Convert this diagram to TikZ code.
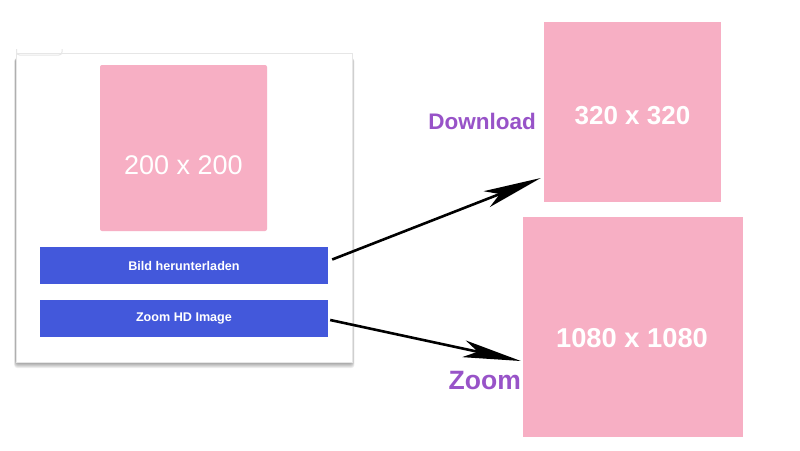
\documentclass[tikz,border=0pt]{standalone}
\usepackage{fontspec}
\setmainfont{Liberation Sans}
\usetikzlibrary{arrows.meta,calc}
\definecolor{pinkbox}{HTML}{F7AFC4}
\definecolor{btnblue}{HTML}{4358DB}
\definecolor{lblpurple}{HTML}{9853C8}
\definecolor{cardline}{HTML}{E6E6E6}
\tikzset{
  imgbox/.style={fill=pinkbox, draw=none, inner sep=0pt, text=white, font=\bfseries\fontsize{26}{30}\selectfont},
  btnbox/.style={fill=btnblue, draw=none, inner sep=0pt, minimum width=288pt, minimum height=37pt, text=white, font=\bfseries\fontsize{12.6}{14}\selectfont},
  lbl/.style={text=lblpurple, inner sep=0pt, font=\bfseries},
  bigarrow/.style={line width=2.6pt, -{Stealth[length=58pt, width=17pt, inset=14pt]}},
  shadowlayer/.style={fill=black, opacity=0.07, rounded corners=3pt},
}
\begin{document}
\begin{tikzpicture}[x=1pt,y=-1pt]
\useasboundingbox[fill=white] (0,0) rectangle (800,450);
% card shadow
\foreach \i in {1,...,6} {
  \fill[shadowlayer] (16-0.3*\i,58) rectangle (352+0.4*\i,362+1.0*\i);
}
% card
\node[draw=cardline, fill=white, inner sep=0pt, minimum width=336pt, minimum height=309pt]
  (card) at (184,207.5) {};
\draw[cardline, line width=1pt, rounded corners=3pt] (16.5,49) -- (16.5,55) -- (62,55) -- (62,49);
% 200 image
\node[imgbox, rounded corners=2pt, minimum width=167pt, minimum height=166pt] (img200) at (183.5,148) {};
\node[text=white, inner sep=0pt, font=\fontsize{27}{30}\selectfont] (t200) at (183.5,165) {200 x 200};
% buttons
\node[btnbox] (btn1) at (184,265.5) {Bild herunterladen};
\node[btnbox] (btn2) at (184,318.5) {Zoom HD Image};
% target images
\node[imgbox, minimum width=177pt, minimum height=180pt] (img320) at (632.5,112) {};
\node[text=white, font=\bfseries\fontsize{26}{30}\selectfont, inner sep=0pt] (t320) at (632.5,116) {320 x 320};
\node[imgbox, minimum width=220pt, minimum height=220pt] (img1080) at (633,327) {};
\node[text=white, font=\bfseries\fontsize{27.3}{30}\selectfont, inner sep=0pt] (t1080) at (632,338.5) {1080 x 1080};
% labels
\node[lbl, font=\bfseries\fontsize{22.5}{26}\selectfont, anchor=east] (ldown) at (536,121) {Download};
\node[lbl, font=\bfseries\fontsize{26.5}{30}\selectfont, anchor=east] (lzoom) at (521,381) {Zoom};
% arrows
\coordinate (a1s) at ($(btn1.east)+(4,-6)$);
\coordinate (a1e) at ($(img320.west)+(-3,66)$);
\coordinate (a2s) at ($(btn2.east)+(2,1.5)$);
\coordinate (a2e) at ($(img1080.west)+(-2,34)$);
\draw[bigarrow] (a1s) -- (a1e);
\draw[bigarrow] (a2s) -- (a2e);
\end{tikzpicture}
\end{document}
